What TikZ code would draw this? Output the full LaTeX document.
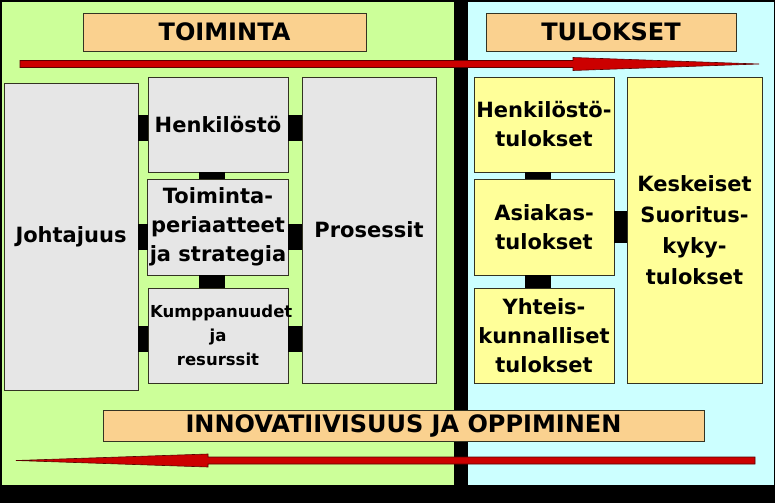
\documentclass[tikz,border=0pt]{standalone}
\usepackage{fontspec}
\setmainfont{DejaVu Sans}
\usetikzlibrary{positioning,calc}
\definecolor{toimfill}{HTML}{CCFF99}
\definecolor{tulfill}{HTML}{CCFFFF}
\definecolor{greyfill}{HTML}{E6E6E6}
\definecolor{yelfill}{HTML}{FFFF99}
\definecolor{headfill}{HTML}{FAD18F}
\definecolor{arrowred}{HTML}{CC0000}
\definecolor{arrowline}{HTML}{5A0000}
\definecolor{boxline}{HTML}{333322}

\begin{document}
\begin{tikzpicture}[
  x=1pt, y=-1pt,
  font=\bfseries\fontsize{21}{29}\selectfont,
  box/.style     = {draw=boxline, line width=0.8pt, align=center, inner sep=2pt, outer sep=0pt,
                    minimum width=140pt, minimum height=95pt},
  grey/.style    = {box, fill=greyfill},
  yel/.style     = {box, fill=yelfill},
  head/.style    = {draw=boxline, line width=0.8pt, fill=headfill, outer sep=0pt, minimum height=38pt,
                    font=\bfseries\fontsize{24}{28}\selectfont},
  bar/.style     = {draw=black, line width=26pt},
  redarrow/.style= {fill=arrowred, draw=arrowline, line width=0.6pt, line join=miter},
]
\useasboundingbox (0,0) rectangle (775,503);

% ---------- panels ----------------------------------------------------------------------
\fill[black] (0,0) rectangle (775,503);
\fill[toimfill] (2,2) rectangle (454,485);
\fill[tulfill] (468,2) rectangle (774,485);

% ---------- headings --------------------------------------------------------------------
\node[head, minimum width=283pt] (toim) at (224.5,32) {TOIMINTA};
\node[head, minimum width=250pt] (tul)  at (611,32)   {TULOKSET};
\node[head, minimum width=601pt, minimum height=31pt] (inno) at (403.5,425.5) {INNOVATIIVISUUS JA OPPIMINEN};

% ---------- toiminta --------------------------------------------------------------------
\node[grey, minimum width=134pt, minimum height=307pt] (joht) at (71,236.5) {Johtajuus};
\node[grey] (henk) at (218,124.5) {Henkilöstö};
\node[grey, below=7pt of henk, minimum height=96pt] (tpst) {Toiminta-\\periaatteet\\ja strategia};
\node[grey, below=13pt of tpst, text width=136pt, font=\bfseries\fontsize{16.5}{24}\selectfont] (kump)
     {Kumppanuudet\\ja\\resurssit};
\node[grey, minimum width=134pt, minimum height=306pt] (pros) at (369,230) {Prosessit};

\draw[bar] ($(joht.east |- henk.west)+(0,3)$) -- ($(henk.west)+(0,3)$);
\draw[bar] ($(henk.east)+(0,3)$) -- ($(pros.west |- henk.east)+(0,3)$);
\draw[bar] ($(joht.east |- tpst.west)+(0,9.5)$) -- ($(tpst.west)+(0,9.5)$);
\draw[bar] ($(tpst.east)+(0,9.5)$) -- ($(pros.west |- tpst.east)+(0,9.5)$);
\draw[bar] ($(joht.east |- kump.west)+(0,3.5)$) -- ($(kump.west)+(0,3.5)$);
\draw[bar] ($(kump.east)+(0,3.5)$) -- ($(pros.west |- kump.east)+(0,3.5)$);
\draw[bar] ($(henk.south)+(-6,0)$) -- ($(tpst.north)+(-6,0)$);
\draw[bar] ($(tpst.south)+(-6,0)$) -- ($(kump.north)+(-6,0)$);

% ---------- tulokset --------------------------------------------------------------------
\node[yel] (htul) at (544,124.5) {Henkilöstö-\\tulokset};
\node[yel, below=7pt of htul, minimum height=96pt] (atul) {Asiakas-\\tulokset};
\node[yel, below=13pt of atul] (ytul) {Yhteis-\\kunnalliset\\tulokset};
\node[yel, minimum width=135pt, minimum height=306pt, font=\bfseries\fontsize{21}{31}\selectfont] (kstul)
     at (694.5,230) {Keskeiset\\Suoritus-\\kyky-\\tulokset};

\draw[bar] ($(htul.south)+(-6.5,0)$) -- ($(atul.north)+(-6.5,0)$);
\draw[bar] ($(atul.south)+(-6.5,0)$) -- ($(ytul.north)+(-6.5,0)$);
\draw[bar, line width=32pt] (atul.east) -- (kstul.west |- atul.east);

% ---------- red arrows ------------------------------------------------------------------
\coordinate (topL) at (20,64);
\coordinate (topH) at (573,64);
\coordinate (topR) at (759,64);
\filldraw[redarrow] ($(topL)+(0,-3.5)$) -- ($(topH)+(0,-3.5)$) -- ($(topH)+(0,-6.5)$) -- (topR)
  -- ($(topH)+(0,6.5)$) -- ($(topH)+(0,3.5)$) -- ($(topL)+(0,3.5)$) -- cycle;

\coordinate (botR) at (755,460.5);
\coordinate (botH) at (208,460.5);
\coordinate (botL) at (16,460.5);
\filldraw[redarrow] ($(botR)+(0,-3.5)$) -- ($(botH)+(0,-3.5)$) -- ($(botH)+(0,-6.5)$) -- (botL)
  -- ($(botH)+(0,6.5)$) -- ($(botH)+(0,3.5)$) -- ($(botR)+(0,3.5)$) -- cycle;

\end{tikzpicture}
\end{document}
